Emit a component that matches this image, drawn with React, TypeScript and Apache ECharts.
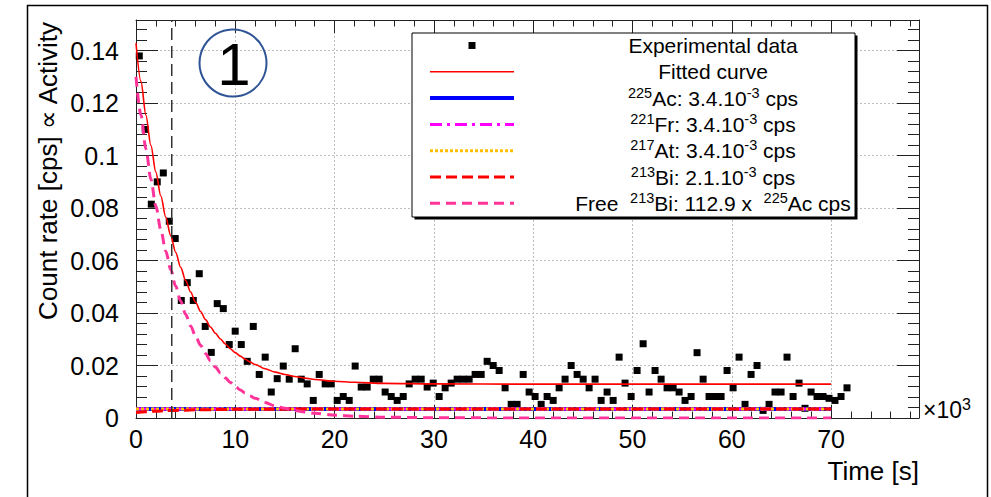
import React, { useEffect, useRef } from "react";
import * as echarts from "echarts";

// ---------- data (time in 10^3 s, count rate in cps) ----------
const timesKs = [
  0.33, 0.93, 1.54, 2.14, 2.75, 3.35, 3.95, 4.56, 5.16, 5.77, 6.37, 6.97, 7.58, 8.18, 8.79, 9.39, 9.99, 10.6, 11.2, 11.81,
  12.41, 13.01, 13.62, 14.22, 14.83, 15.43, 16.03, 16.64, 17.24, 17.85, 18.45, 19.05, 19.66, 20.26, 20.87, 21.47, 22.07, 22.68, 23.28, 23.89,
  24.49, 25.09, 25.7, 26.3, 26.91, 27.51, 28.11, 28.72, 29.32, 29.93, 30.53, 31.13, 31.74, 32.34, 32.95, 33.55, 34.15, 34.76, 35.36, 35.97,
  36.57, 37.17, 37.78, 38.38, 38.99, 39.59, 40.19, 40.8, 41.4, 42.01, 42.61, 43.21, 43.82, 44.42, 45.03, 45.63, 46.23, 46.84, 47.44, 48.05,
  48.65, 49.25, 49.86, 50.46, 51.07, 51.67, 52.27, 52.88, 53.48, 54.09, 54.69, 55.29, 55.9, 56.5, 57.11, 57.71, 58.31, 58.92, 59.52, 60.13,
  60.73, 61.33, 61.94, 62.54, 63.15, 63.75, 64.35, 64.96, 65.56, 66.17, 66.77, 67.37, 67.98, 68.58, 69.19, 69.79, 70.39, 71.0, 71.6,
];
const countRate = [
  0.138, 0.11, 0.0815, 0.09, 0.0934, 0.075, 0.0684, 0.0448, 0.0516, 0.0448, 0.055, 0.0349, 0.025, 0.0436, 0.0417, 0.028, 0.0331, 0.028, 0.0216, 0.0349,
  0.0166, 0.0232, 0.0099, 0.015, 0.0198, 0.0148, 0.0264, 0.0148, 0.013, 0.0067, 0.0166, 0.013, 0.013, 0.0067, 0.0082, 0.0067, 0.0198, 0.0118, 0.0118, 0.0148,
  0.0148, 0.0099, 0.0082, 0.0067, 0.0082, 0.013, 0.0148, 0.0148, 0.0118, 0.0133, 0.0082, 0.0115, 0.0133, 0.0148, 0.0148, 0.0148, 0.0166, 0.0166, 0.0216, 0.02,
  0.0181, 0.0115, 0.0052, 0.0052, 0.0166, 0.0099, 0.0082, 0.0052, 0.0082, 0.0067, 0.0115, 0.0148, 0.02, 0.0166, 0.0148, 0.0115, 0.0148, 0.0067, 0.0099, 0.0067,
  0.0232, 0.0133, 0.0082, 0.0181, 0.0283, 0.0099, 0.0181, 0.0148, 0.0115, 0.0115, 0.0099, 0.0067, 0.0082, 0.0249, 0.0148, 0.0082, 0.0082, 0.0082, 0.0181, 0.0115,
  0.0232, 0.0052, 0.0166, 0.02, 0.0029, 0.0052, 0.0099, 0.0099, 0.0232, 0.0082, 0.0133, 0.0037, 0.0099, 0.0082, 0.0082, 0.0075, 0.0067, 0.0082, 0.0115,
];

const curveT = [
  0, 0.5, 1, 1.5, 2, 2.5, 3, 3.5, 4, 4.5, 5, 5.5, 6, 6.5, 7, 7.5, 8, 8.5, 9, 9.5, 10, 10.5, 11, 11.5, 12,
  13, 14, 15, 16, 17, 18, 20, 22, 25, 30, 40, 50, 60, 70,
];
const fittedV = [
  0.1429, 0.1283, 0.1154, 0.1039, 0.0937, 0.0846, 0.0765, 0.0694, 0.0631, 0.0574, 0.0524, 0.048, 0.0441, 0.0406, 0.0375, 0.0347, 0.0323, 0.0301, 0.0282,
  0.0264, 0.0249, 0.0236, 0.0224, 0.0213, 0.0204, 0.0188, 0.0175, 0.0166, 0.0158, 0.0152, 0.0147, 0.014, 0.0136, 0.0132, 0.013, 0.0129, 0.0129, 0.0129, 0.0129,
];
const freeBiV = [
  0.13, 0.1154, 0.1025, 0.091, 0.0808, 0.0717, 0.0636, 0.0565, 0.0502, 0.0445, 0.0395, 0.0351, 0.0312, 0.0277, 0.0246, 0.0218, 0.0194, 0.0172, 0.0153,
  0.0135, 0.012, 0.0107, 0.0095, 0.0084, 0.0075, 0.0059, 0.0046, 0.0037, 0.0029, 0.0023, 0.0018, 0.0011, 0.0007, 0.0003, 0.0001, 0, 0, 0, 0,
];
const flatT = [0, 70];
const acV = [0.0034, 0.0034];
const frV = [0.0034, 0.0034];
const atV = [0.0034, 0.0034];
const biT = [0, 1, 2, 3, 4, 5, 6, 8, 10, 13, 16, 20, 70];
const biV = [0.0021, 0.0024, 0.0026, 0.0028, 0.0029, 0.003, 0.0031, 0.0032, 0.0033, 0.00335, 0.0034, 0.0034, 0.0034];
const markerTime = 3.6;

const legendLabels = [
  "{n|Experimental data}",
  "{n|Fitted curve}",
  "{s|225}{n|Ac: 3.4.10}{s|-3}{n| cps}",
  "{s|221}{n|Fr: 3.4.10}{s|-3}{n| cps}",
  "{s|217}{n|At: 3.4.10}{s|-3}{n| cps}",
  "{s|213}{n|Bi: 2.1.10}{s|-3}{n| cps}",
  "{n|Free  }{s|213}{n|Bi: 112.9 x  }{s|225}{n|Ac cps}",
];

const X_MAX = 78.85;
const Y_MAX = 0.1517;
const FONT = '"Liberation Sans", Arial, Helvetica, sans-serif';

const pairs = (xs: number[], ys: number[]) => xs.map((x, i) => [x, ys[i]]);

function App() {
  const ref = useRef<HTMLDivElement>(null);
  useEffect(() => {
    if (!ref.current) return;
    const chart = echarts.init(ref.current, undefined, { renderer: "svg" });
    const axisColor = "#222";
    const mkX = (interval: number, position: string, tickLen: number, major: boolean, bottom: boolean) => ({
      type: "value",
      min: 0,
      max: X_MAX,
      interval,
      position,
      gridIndex: 0,
      axisLine: { show: major, onZero: false, lineStyle: { color: axisColor, width: 1 } },
      axisTick: { show: true, inside: true, length: tickLen, lineStyle: { color: axisColor, width: 1 } },
      axisLabel: {
        show: major && bottom,
        fontSize: 25,
        fontFamily: FONT,
        color: "#000",
        margin: 8,
        showMaxLabel: false,
        formatter: (v: number) => (Math.abs(v % 10) < 1e-9 ? String(v) : ""),
      },
      splitLine: { show: major && bottom, lineStyle: { color: "#bdbdbd", type: [2, 2], width: 1 } },
    });
    const mkY = (interval: number, position: string, tickLen: number, major: boolean, left: boolean) => ({
      type: "value",
      min: 0,
      max: Y_MAX,
      interval,
      position,
      gridIndex: 0,
      axisLine: { show: major, onZero: false, lineStyle: { color: axisColor, width: 1 } },
      axisTick: { show: true, inside: true, length: tickLen, lineStyle: { color: axisColor, width: 1 } },
      axisLabel: {
        show: major && left,
        fontSize: 25,
        fontFamily: FONT,
        color: "#000",
        margin: 17,
        showMaxLabel: false,
        formatter: (v: number) => (v > 0.145 ? "" : String(Math.round(v * 1000) / 1000)),
      },
      splitLine: { show: major && left, lineStyle: { color: "#bdbdbd", type: [2, 2], width: 1 } },
    });

    const rowY = (i: number) => 45.5 + 26.3 * i;
    const sx1 = 430;
    const sx2 = 514;
    const sampleStyles = [
      null,
      { stroke: "#ff0000", lineWidth: 1.5 },
      { stroke: "#0000ff", lineWidth: 4 },
      { stroke: "#ff00ff", lineWidth: 3, lineDash: [12, 5, 3, 5] },
      { stroke: "#ffbf00", lineWidth: 3, lineDash: [3, 2] },
      { stroke: "#ff0000", lineWidth: 3, lineDash: [11, 5] },
      { stroke: "#ff3399", lineWidth: 3, lineDash: [10, 6] },
    ];
    const legendEls: any[] = [
      { type: "rect", z: 20, shape: { x: 414.5, y: 35.5, width: 443, height: 184 }, style: { fill: "#000" } },
      { type: "rect", z: 21, shape: { x: 412, y: 33, width: 443, height: 184 }, style: { fill: "#fff", stroke: "#000", lineWidth: 1 } },
    ];
    legendLabels.forEach((label, i) => {
      const y = rowY(i);
      const st = sampleStyles[i];
      if (st) {
        legendEls.push({ type: "line", z: 22, shape: { x1: sx1, y1: y, x2: sx2, y2: y }, style: { ...st, fill: "none" } });
      } else {
        legendEls.push({ type: "rect", z: 22, shape: { x: 468.5, y: y - 3.5, width: 7, height: 7 }, style: { fill: "#000" } });
      }
      legendEls.push({
        type: "text",
        z: 22,
        x: 713,
        y,
        style: {
          text: label,
          align: "center",
          verticalAlign: "middle",
          fill: "#000",
          rich: {
            n: { fontSize: 21, fontFamily: FONT, lineHeight: 26, fill: "#000" },
            s: { fontSize: 14.5, fontFamily: FONT, lineHeight: 14, verticalAlign: "top", fill: "#000" },
          },
        },
      });
    });

    const option: any = {
      animation: false,
      backgroundColor: "#fff",
      grid: { left: 136, top: 20, width: 783, height: 398, containLabel: false },
      xAxis: [mkX(10, "bottom", 13, true, true), mkX(2, "bottom", 6.5, false, true), mkX(10, "top", 13, true, false), mkX(2, "top", 6.5, false, false)],
      yAxis: [mkY(0.02, "left", 22, true, true), mkY(0.004, "left", 11, false, true), mkY(0.02, "right", 22, true, false), mkY(0.004, "right", 11, false, false)],
      series: [
        {
          name: "Experimental data",
          type: "scatter",
          data: pairs(timesKs, countRate),
          symbol: "rect",
          symbolSize: 7,
          itemStyle: { color: "#000", opacity: 1 },
          z: 2,
        },
        {
          name: "Fitted curve",
          type: "line",
          data: pairs(curveT, fittedV),
          symbol: "none",
          smooth: 0.3,
          smoothMonotone: "x",
          lineStyle: { color: "#ff0000", width: 1.6 },
          z: 3,
        },
        { name: "225Ac", type: "line", data: pairs(flatT, acV), symbol: "none", lineStyle: { color: "#0000ff", width: 4 }, z: 4 },
        { name: "221Fr", type: "line", data: pairs(flatT, frV), symbol: "none", lineStyle: { color: "#ff00ff", width: 3, type: [12, 5, 3, 5] }, z: 5 },
        { name: "217At", type: "line", data: pairs(flatT, atV), symbol: "none", lineStyle: { color: "#ffbf00", width: 3, type: [3, 2] }, z: 6 },
        {
          name: "213Bi",
          type: "line",
          data: pairs(biT, biV),
          symbol: "none",
          smooth: 0.3,
          smoothMonotone: "x",
          lineStyle: { color: "#ff0000", width: 3, type: [11, 5] },
          z: 7,
        },
        {
          name: "Free 213Bi",
          type: "line",
          data: pairs(curveT, freeBiV),
          symbol: "none",
          smooth: 0.3,
          smoothMonotone: "x",
          lineStyle: { color: "#ff3399", width: 3, type: [10, 6] },
          z: 8,
        },
        {
          name: "marker",
          type: "line",
          data: [
            [markerTime, 0],
            [markerTime, Y_MAX],
          ],
          symbol: "none",
          lineStyle: { color: "#333", width: 1.5, type: [12, 6] },
          z: 9,
        },
      ],
      graphic: [
        { type: "rect", z: 1, shape: { x: 27.5, y: 5.5, width: 960, height: 520 }, style: { fill: "none", stroke: "#000", lineWidth: 1.5 } },
        { type: "circle", z: 20, shape: { cx: 233, cy: 63, r: 33.5 }, style: { fill: "none", stroke: "#2f5496", lineWidth: 2 } },
        {
          type: "text",
          z: 20,
          x: 234,
          y: 64,
          style: { text: "1", fontSize: 60, fontFamily: FONT, fill: "#000", align: "center", verticalAlign: "middle" },
        },
        ...legendEls,
        {
          type: "text",
          z: 20,
          x: 48,
          y: 22,
          rotation: Math.PI / 2,
          style: { text: "Count rate [cps] \u221d Activity", fontSize: 26, fontFamily: FONT, fill: "#000", align: "right", verticalAlign: "middle" },
        },
        {
          type: "text",
          z: 20,
          x: 919,
          y: 471,
          style: { text: "Time [s]", fontSize: 26, fontFamily: FONT, fill: "#000", align: "right", verticalAlign: "middle" },
        },
        {
          type: "text",
          z: 20,
          x: 923,
          y: 410,
          style: {
            text: "{n|\u00d710}{s|3}",
            align: "left",
            verticalAlign: "middle",
            rich: {
              n: { fontSize: 23, fontFamily: FONT, lineHeight: 28, fill: "#000" },
              s: { fontSize: 16, fontFamily: FONT, lineHeight: 16, verticalAlign: "top", fill: "#000" },
            },
          },
        },
      ],
    };
    chart.setOption(option);
    return () => chart.dispose();
  }, []);
  return <div ref={ref} style={{ position: "absolute", left: 0, top: 0, width: 991, height: 497, background: "#fff" }} />;
}

export default App;
